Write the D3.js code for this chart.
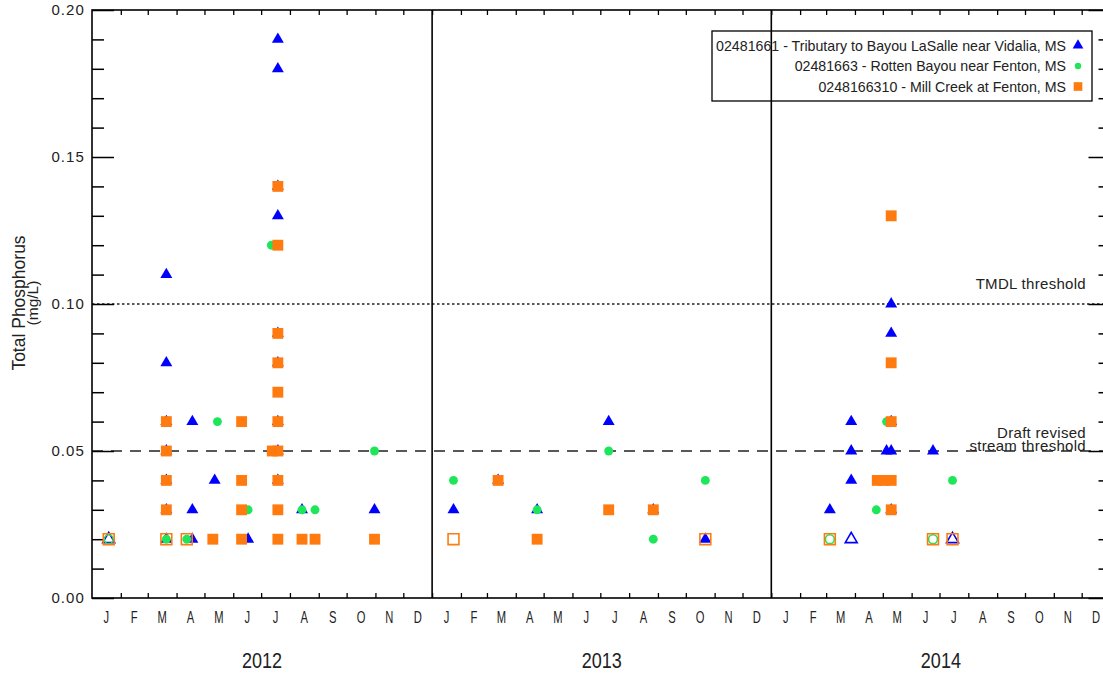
<!DOCTYPE html>
<html>
<head>
<meta charset="utf-8">
<script src="https://cdn.jsdelivr.net/npm/d3@7"></script>
<style>
  body { margin: 0; background: #fff; }
  svg { display: block; font-family: "Liberation Sans", Arial, sans-serif; }
</style>
</head>
<body>
<div id="chart"></div>
<script>
// site names shown in the legend
const siteNames = [
  "02481661 - Tributary to Bayou LaSalle near Vidalia, MS",
  "02481663 - Rotten Bayou near Fenton, MS",
  "0248166310 - Mill Creek at Fenton, MS"
];

// [sample date, total phosphorus mg/L]
const tributary = [
  ["2012-03-21", 0.11], ["2012-03-21", 0.08], ["2012-03-21", 0.06], ["2012-03-21", 0.05],
  ["2012-03-21", 0.04], ["2012-03-21", 0.03], ["2012-03-21", 0.02],
  ["2012-04-18", 0.06], ["2012-04-18", 0.03], ["2012-04-18", 0.02],
  ["2012-05-12", 0.04], ["2012-06-17", 0.02],
  ["2012-07-19", 0.19], ["2012-07-19", 0.18], ["2012-07-19", 0.14], ["2012-07-19", 0.13],
  ["2012-07-19", 0.09], ["2012-07-19", 0.08], ["2012-07-19", 0.06], ["2012-07-19", 0.05],
  ["2012-07-19", 0.04],
  ["2012-08-14", 0.03], ["2012-10-31", 0.03],
  ["2013-01-24", 0.03], ["2013-03-13", 0.04], ["2013-04-24", 0.03], ["2013-07-10", 0.06],
  ["2013-08-27", 0.03], ["2013-10-22", 0.02],
  ["2014-03-05", 0.03], ["2014-03-28", 0.06], ["2014-03-28", 0.05], ["2014-03-28", 0.04],
  ["2014-05-05", 0.05], ["2014-05-10", 0.10], ["2014-05-10", 0.09], ["2014-05-10", 0.06],
  ["2014-05-10", 0.05], ["2014-05-10", 0.03],
  ["2014-06-24", 0.05]
];
// less-than values (open symbols)
const tributaryOpen = [["2012-01-19", 0.02], ["2014-03-28", 0.02], ["2014-07-15", 0.02]];

const rotten = [
  ["2012-03-21", 0.02], ["2012-04-12", 0.02], ["2012-05-15", 0.06], ["2012-06-17", 0.03],
  ["2012-07-12", 0.12], ["2012-08-14", 0.03], ["2012-08-28", 0.03], ["2012-10-31", 0.05],
  ["2013-01-24", 0.04], ["2013-04-24", 0.03], ["2013-07-10", 0.05], ["2013-08-27", 0.02],
  ["2013-10-22", 0.04],
  ["2014-04-24", 0.03], ["2014-05-05", 0.06], ["2014-07-15", 0.04]
];
const rottenOpen = [["2012-01-19", 0.02], ["2014-03-05", 0.02], ["2014-06-24", 0.02]];

const mill = [
  ["2012-03-21", 0.06], ["2012-03-21", 0.05], ["2012-03-21", 0.04], ["2012-03-21", 0.03],
  ["2012-05-10", 0.02],
  ["2012-06-10", 0.06], ["2012-06-10", 0.04], ["2012-06-10", 0.03], ["2012-06-10", 0.02],
  ["2012-07-13", 0.05],
  ["2012-07-19", 0.14], ["2012-07-19", 0.12], ["2012-07-19", 0.09], ["2012-07-19", 0.08],
  ["2012-07-19", 0.07], ["2012-07-19", 0.06], ["2012-07-19", 0.05], ["2012-07-19", 0.04],
  ["2012-07-19", 0.03], ["2012-07-19", 0.02],
  ["2012-08-14", 0.02], ["2012-08-28", 0.02], ["2012-10-31", 0.02],
  ["2013-03-13", 0.04], ["2013-04-24", 0.02], ["2013-07-10", 0.03], ["2013-08-27", 0.03],
  ["2014-04-25", 0.04], ["2014-05-02", 0.04],
  ["2014-05-10", 0.13], ["2014-05-10", 0.08], ["2014-05-10", 0.06], ["2014-05-10", 0.04],
  ["2014-05-10", 0.03]
];
const millOpen = [
  ["2012-01-19", 0.02], ["2012-03-21", 0.02], ["2012-04-12", 0.02], ["2013-01-24", 0.02],
  ["2013-10-22", 0.02], ["2014-03-05", 0.02], ["2014-06-24", 0.02], ["2014-07-15", 0.02]
];

const thresholds = [
  { value: 0.10, label: ["TMDL threshold"], dash: "2.5,2.5" },
  { value: 0.05, label: ["Draft revised", "stream threshold"], dash: "11,8" }
];
const years = [2012, 2013, 2014];

const W = 1103, H = 673;
const mLeft = 92, mRight = 1110.5, mTop = 10, mBottom = 598;
const parse = d3.timeParse("%Y-%m-%d");

const svg = d3.select("#chart").append("svg")
  .attr("width", W).attr("height", H);

const x = d3.scaleTime()
  .domain([new Date(2012, 0, 1), new Date(2015, 0, 1)])
  .range([mLeft, mRight]);
const y = d3.scaleLinear().domain([0, 0.2]).range([mBottom, mTop]);

const colors = { tri: "#0000ff", dot: "#1ee65a", sq: "#ff7b0f" };

// threshold lines
thresholds.forEach(t => {
  svg.append("line")
    .attr("x1", mLeft).attr("x2", mRight)
    .attr("y1", y(t.value)).attr("y2", y(t.value))
    .attr("stroke", "#222").attr("stroke-width", 1.6)
    .attr("stroke-dasharray", t.dash);
  const n = t.label.length;
  t.label.forEach((l, i) => {
    svg.append("text")
      .attr("x", 1086)
      .attr("y", n === 1 ? y(t.value) - 15 : y(t.value) - 13 * (n - 1 - i))
      .attr("text-anchor", "end")
      .attr("font-size", 15).attr("letter-spacing", 0.3)
      .attr("fill", "#222")
      .text(l);
  });
});

// year dividers
years.slice(1).forEach(yr => {
  svg.append("line")
    .attr("x1", x(new Date(yr, 0, 1))).attr("x2", x(new Date(yr, 0, 1)))
    .attr("y1", mTop).attr("y2", mBottom)
    .attr("stroke", "#000").attr("stroke-width", 1.6);
});

// axes
const minorTicks = d3.range(0, 21).map(i => i / 100).filter((d, i) => i % 5 !== 0);
const majorTicks = [0, 0.05, 0.1, 0.15, 0.2];
const fmt = d3.format(".2f");

function yAxes(g, side) {
  const mk = side === "left" ? d3.axisLeft : d3.axisRight;
  g.append("g").call(mk(y).tickValues(minorTicks).tickSize(-12).tickFormat(""));
  g.append("g").call(mk(y).tickValues(majorTicks).tickSize(-22).tickPadding(7)
    .tickFormat(side === "left" ? fmt : ""));
  g.selectAll(".domain").remove();
  g.selectAll("line").attr("stroke", "#000").attr("stroke-width", 1.5);
  g.selectAll("text").attr("font-size", 15).attr("letter-spacing", 1.1)
    .attr("font-family", "Liberation Sans, Arial, sans-serif").attr("fill", "#222");
}
svg.append("g").attr("transform", `translate(${mLeft},0)`).call(yAxes, "left");
svg.append("g").attr("transform", `translate(${mRight},0)`).call(yAxes, "right");

const months = d3.timeMonth.range(new Date(2012, 0, 1), new Date(2015, 0, 1));
const xb = svg.append("g").attr("transform", `translate(0,${mBottom})`)
  .call(d3.axisBottom(x).tickValues(months.slice(1)).tickSize(-5).tickFormat(""));
const xt = svg.append("g").attr("transform", `translate(0,${mTop})`)
  .call(d3.axisTop(x).tickValues(months.slice(1)).tickSize(-5).tickFormat(""));
[xb, xt].forEach(g => {
  g.select(".domain").remove();
  g.selectAll("line").attr("stroke", "#000").attr("stroke-width", 1.3);
});

// frame
svg.append("rect")
  .attr("x", mLeft).attr("y", mTop)
  .attr("width", mRight - mLeft).attr("height", mBottom - mTop)
  .attr("fill", "none").attr("stroke", "#000").attr("stroke-width", 1.6);

// month letters (condensed look)
const monthFmt = d3.timeFormat("%b");
svg.append("g").selectAll("text")
  .data(months)
  .join("text")
  .attr("transform", d => `translate(${(x(d) + x(d3.timeMonth.offset(d, 1))) / 2},623) scale(0.7,1)`)
  .attr("text-anchor", "middle")
  .attr("font-size", 16)
  .attr("fill", "#222")
  .text(d => monthFmt(d)[0]);

// year labels
svg.append("g").selectAll("text")
  .data(years)
  .join("text")
  .attr("transform", d => `translate(${(x(new Date(d, 0, 1)) + x(new Date(d + 1, 0, 1))) / 2},668) scale(0.82,1)`)
  .attr("text-anchor", "middle")
  .attr("font-size", 22)
  .attr("fill", "#222")
  .text(d => d);

// y title
const yt = svg.append("g").attr("transform", "translate(0,303) rotate(-90)");
yt.append("text").attr("x", 0).attr("y", 25).attr("text-anchor", "middle")
  .attr("font-size", 17.5).attr("fill", "#222").text("Total Phosphorus");
yt.append("text").attr("x", 0).attr("y", 38).attr("text-anchor", "middle")
  .attr("font-size", 15.5).attr("fill", "#222").text("(mg/L)");

// markers
const shapes = {
  tri: d3.symbol(d3.symbolTriangle, 62),
  dot: d3.symbol(d3.symbolCircle, 62),
  sq: d3.symbol(d3.symbolSquare, 118)
};

function plot(data, kind, open) {
  svg.append("g").selectAll("path")
    .data(data)
    .join("path")
    .attr("transform", d => `translate(${x(parse(d[0]))},${y(d[1])})`)
    .attr("d", shapes[kind])
    .attr("fill", open ? "none" : colors[kind])
    .attr("stroke", open ? colors[kind] : "none")
    .attr("stroke-width", open ? 1.6 : 0);
}

plot(tributary, "tri", false);
plot(tributaryOpen, "tri", true);
plot(rotten, "dot", false);
plot(rottenOpen, "dot", true);
plot(mill, "sq", false);
plot(millOpen, "sq", true);

// legend
const legend = svg.append("g");
legend.append("rect")
  .attr("x", 712).attr("y", 31).attr("width", 380).attr("height", 70)
  .attr("fill", "none").attr("stroke", "#000").attr("stroke-width", 1.3);
const legendKinds = ["tri", "dot", "sq"];
siteNames.forEach((name, i) => {
  const ly = 45.5 + i * 20.5;
  legend.append("text")
    .attr("x", 1066).attr("y", ly + 5)
    .attr("text-anchor", "end")
    .attr("font-size", 14.2).attr("fill", "#222")
    .text(name);
  legend.append("path")
    .attr("transform", `translate(1078,${ly})`)
    .attr("d", legendKinds[i] === "sq" ? d3.symbol(d3.symbolSquare, 75)
      : legendKinds[i] === "tri" ? d3.symbol(d3.symbolTriangle, 50) : d3.symbol(d3.symbolCircle, 32))
    .attr("fill", colors[legendKinds[i]]);
});
</script>
</body>
</html>
